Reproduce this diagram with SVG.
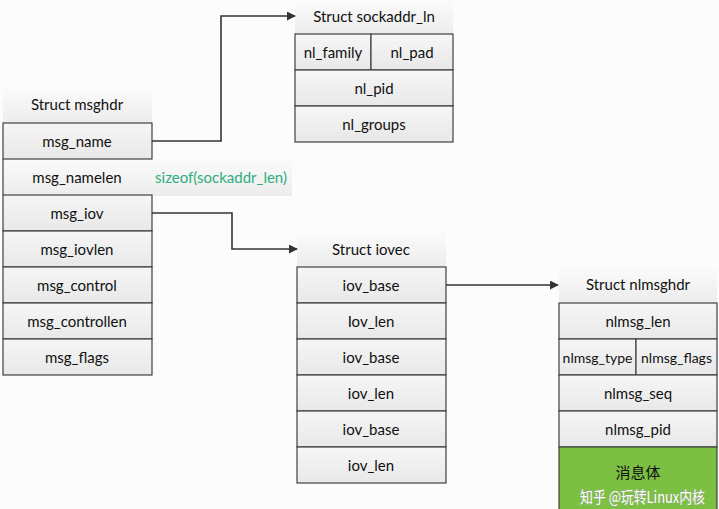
<svg xmlns="http://www.w3.org/2000/svg" width="719" height="509" viewBox="0 0 719 509">
<defs>
<linearGradient id="rowg" x1="0" y1="0" x2="0" y2="1"><stop offset="0" stop-color="#f6f6f6"/><stop offset="1" stop-color="#e8e8e8"/></linearGradient>
<linearGradient id="ttlg" x1="0" y1="0" x2="0" y2="1"><stop offset="0" stop-color="#fbfbfb"/><stop offset="1" stop-color="#ececec"/></linearGradient>
<marker id="arr" viewBox="0 0 10 10" refX="9" refY="5" markerWidth="9" markerHeight="9" markerUnits="userSpaceOnUse" orient="auto"><path d="M0,0 L10,5 L0,10 z" fill="#333"/></marker>
</defs>
<style>
.row{fill:url(#rowg);stroke:#404040;stroke-width:1.2}
.ttl{fill:url(#ttlg)}
.t{font-family:Lato,"Open Sans","Liberation Sans",sans-serif;font-size:15px;fill:#111;text-anchor:middle}
.conn{fill:none;stroke:#333;stroke-width:1.6;marker-end:url(#arr)}
</style>
<rect width="719" height="509" fill="#fdfcfd"/>

<g id="msghdr">
<rect class="ttl" x="3" y="88" width="149" height="35"/>
<text class="t" x="77" y="110">Struct msghdr</text>
<rect x="3" y="159" width="289" height="37" fill="url(#ttlg)"/>
<line x1="3" y1="159" x2="3" y2="195" stroke="#404040" stroke-width="1.2"/>
<text class="t" x="77" y="183">msg_namelen</text>
<text class="t" x="221" y="183" style="fill:#2fae7e">sizeof(sockaddr_len)</text>
<rect class="row" x="3" y="123" width="149" height="36"/>
<text class="t" x="77" y="147">msg_name</text>
<rect class="row" x="3" y="195" width="149" height="36"/>
<text class="t" x="77" y="219">msg_iov</text>
<rect class="row" x="3" y="231" width="149" height="36"/>
<text class="t" x="77" y="255">msg_iovlen</text>
<rect class="row" x="3" y="267" width="149" height="36"/>
<text class="t" x="77" y="291">msg_control</text>
<rect class="row" x="3" y="303" width="149" height="36"/>
<text class="t" x="77" y="327">msg_controllen</text>
<rect class="row" x="3" y="339" width="149" height="36"/>
<text class="t" x="77" y="363">msg_flags</text>
</g>

<g id="sockaddr_ln">
<rect class="ttl" x="295" y="0" width="158" height="34"/>
<text class="t" x="374" y="22">Struct sockaddr_ln</text>
<rect class="row" x="295" y="34" width="76" height="36"/>
<text class="t" x="333" y="58">nl_family</text>
<rect class="row" x="371" y="34" width="82" height="36"/>
<text class="t" x="412" y="58">nl_pad</text>
<rect class="row" x="295" y="70" width="158" height="36"/>
<text class="t" x="374" y="94">nl_pid</text>
<rect class="row" x="295" y="106" width="158" height="36"/>
<text class="t" x="374" y="130">nl_groups</text>
</g>

<g id="iovec">
<rect class="ttl" x="297" y="232" width="149" height="35"/>
<text class="t" x="371" y="255">Struct iovec</text>
<rect class="row" x="297" y="267" width="149" height="36"/>
<text class="t" x="371" y="291">iov_base</text>
<rect class="row" x="297" y="303" width="149" height="36"/>
<text class="t" x="371" y="327">Iov_len</text>
<rect class="row" x="297" y="339" width="149" height="36"/>
<text class="t" x="371" y="363">iov_base</text>
<rect class="row" x="297" y="375" width="149" height="36"/>
<text class="t" x="371" y="399">iov_len</text>
<rect class="row" x="297" y="411" width="149" height="36"/>
<text class="t" x="371" y="435">iov_base</text>
<rect class="row" x="297" y="447" width="149" height="36"/>
<text class="t" x="371" y="471">iov_len</text>
</g>

<g id="nlmsghdr">
<rect class="ttl" x="559" y="267" width="158" height="36"/>
<text class="t" x="638" y="290">Struct nlmsghdr</text>
<rect class="row" x="559" y="303" width="158" height="36"/>
<text class="t" x="638" y="327">nlmsg_len</text>
<rect class="row" x="559" y="339" width="77" height="36"/>
<text class="t" x="597.5" y="363" style="font-size:14px">nlmsg_type</text>
<rect class="row" x="636" y="339" width="81" height="36"/>
<text class="t" x="676.5" y="363" style="font-size:14px">nlmsg_flags</text>
<rect class="row" x="559" y="375" width="158" height="36"/>
<text class="t" x="638" y="399">nlmsg_seq</text>
<rect class="row" x="559" y="411" width="158" height="36"/>
<text class="t" x="638" y="435">nlmsg_pid</text>
<rect x="559" y="447" width="158" height="64" fill="#7cc043" stroke="#404040" stroke-width="1.2"/>
<text class="t" x="638" y="478" style="font-family:'Noto Sans CJK SC',sans-serif">消息体</text>
</g>

<g id="connectors">
<path class="conn" d="M152,141 H221 V16 H295"/>
<path class="conn" d="M152,213 H232 V249 H297"/>
<path class="conn" d="M446,285 H558"/>
</g>

<text x="580" y="503" textLength="125" lengthAdjust="spacingAndGlyphs" style="font-family:'Noto Sans CJK SC',sans-serif;font-size:16px;fill:#ffffff;stroke:#9a9a9a;stroke-width:0.6;paint-order:stroke">知乎 @玩转Linux内核</text>
</svg>
